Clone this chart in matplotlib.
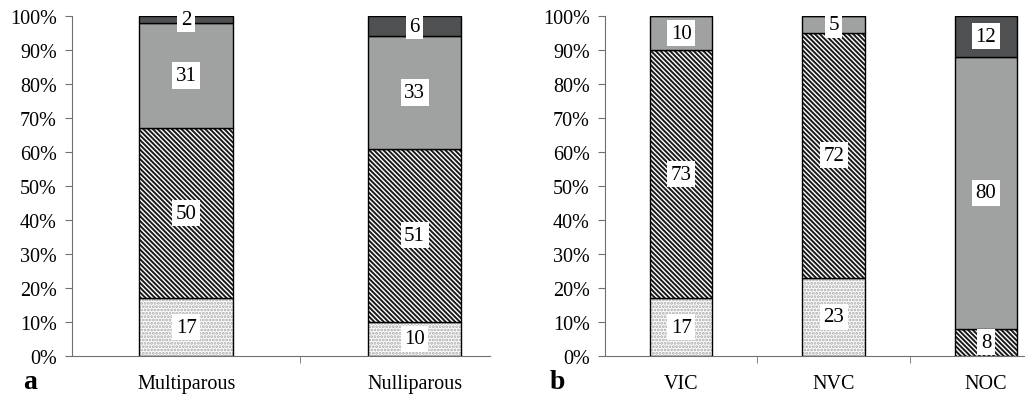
import matplotlib.pyplot as plt
import numpy as np

plt.rcParams['font.family'] = ['Liberation Serif', 'DejaVu Serif']
plt.rcParams['hatch.linewidth'] = 1.4

# panel a
cats_a = ['Multiparous', 'Nulliparous']
dotted_a = [17, 10]
hatched_a = [50, 51]
gray_a = [31, 33]
dark_a = [2, 6]

# panel b
cats_b = ['VIC', 'NVC', 'NOC']
dotted_b = [17, 23, 0]
hatched_b = [73, 72, 8]
gray_b = [10, 5, 80]
dark_b = [0, 0, 12]

# face colour, hatch, hatch colour per segment
styles = [('white', '.....', '#a8a8a8'),
          ('white', '\\\\\\\\\\\\\\', '#1a1a1a'),
          ('#a0a2a2', '', 'black'),
          ('#4e5051', '', 'black')]

W = 0.41


def draw_panel(ax, cats, series, xmax):
    x = np.arange(len(cats))
    bottom = np.zeros(len(cats))
    for vals, (fc, hatch, hc) in zip(series, styles):
        vals = np.array(vals, dtype=float)
        ax.bar(x, vals, W, bottom=bottom, color=fc, hatch=hatch,
               edgecolor=hc, linewidth=0)
        ax.bar(x, vals, W, bottom=bottom, fill=False,
               edgecolor='black', linewidth=1.0)
        for xi, v, b in zip(x, vals, bottom):
            if v > 0:
                ax.text(xi, b + v / 2, '%d' % v, ha='center', va='center',
                        fontsize=15,
                        bbox=dict(facecolor='white', edgecolor='none', pad=2.5))
        bottom += vals

    ax.set_xlim(-0.5, xmax)
    ax.set_ylim(0, 100)
    ax.set_yticks(np.arange(0, 101, 10))
    ax.set_yticklabels(['%d%%' % v for v in range(0, 101, 10)], fontsize=14.5)
    ax.set_xticks(x)
    ax.set_xticklabels(cats, fontsize=14.5)
    ax.set_xticks(np.arange(0.5, len(cats) - 0.5), minor=True)
    ax.tick_params(axis='x', which='major', length=0, pad=13)
    ax.tick_params(axis='x', which='minor', length=5, color='#707070')
    ax.tick_params(axis='y', length=5, color='#707070', pad=6)
    for s in ['top', 'right']:
        ax.spines[s].set_visible(False)
    ax.spines['left'].set_color('#707070')
    ax.spines['bottom'].set_color('#707070')


fig = plt.figure(figsize=(10.25, 4.06), dpi=100)
ax1 = fig.add_axes([0.0702, 0.1207, 0.4078, 0.8374])
ax2 = fig.add_axes([0.5902, 0.1207, 0.4098, 0.8374])

draw_panel(ax1, cats_a, [dotted_a, hatched_a, gray_a, dark_a], 1.33)
draw_panel(ax2, cats_b, [dotted_b, hatched_b, gray_b, dark_b], 2.256)

fig.text(30 / 1025, 1 - 383 / 406, 'a', fontsize=20, fontweight='bold',
         ha='center', va='center')
fig.text(557 / 1025, 1 - 383 / 406, 'b', fontsize=20, fontweight='bold',
         ha='center', va='center')

fig.savefig('out.png', dpi=100)
